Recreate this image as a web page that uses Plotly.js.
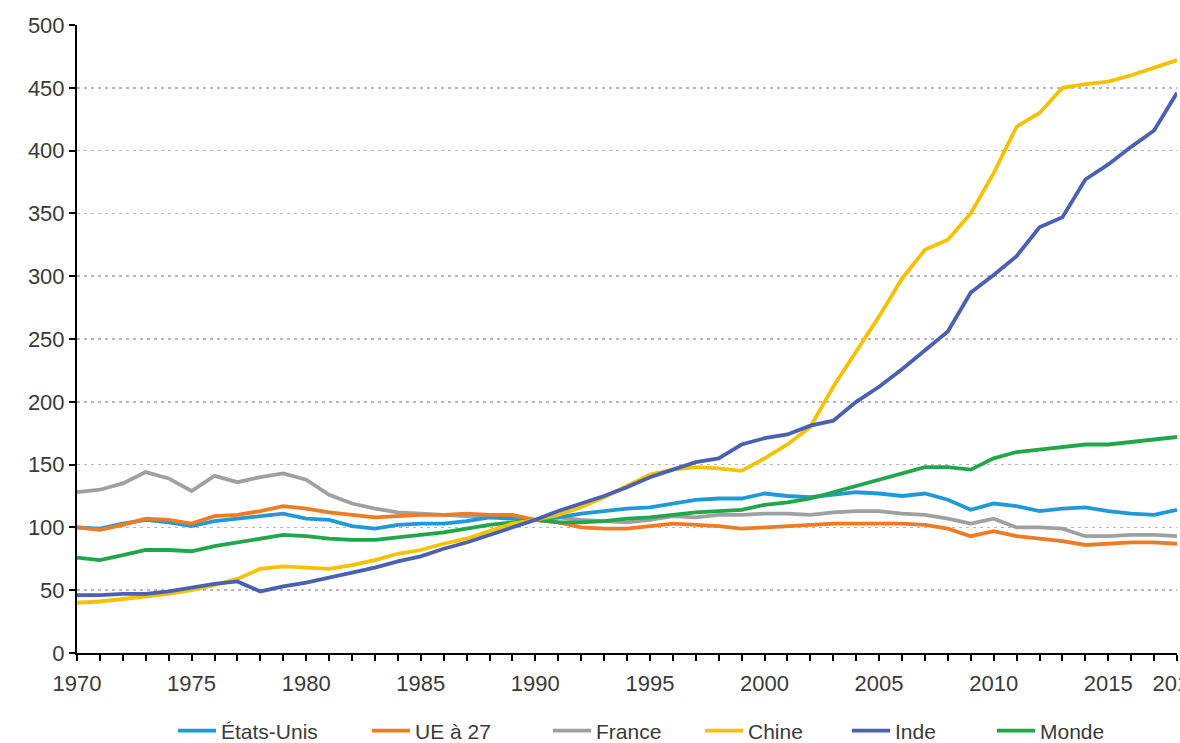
<!DOCTYPE html>
<html>
<head>
<meta charset="utf-8">
<script src="https://cdn.plot.ly/plotly-3.0.1.min.js"></script>
<style>html,body{margin:0;padding:0;background:#fff;overflow:hidden;}#chart{width:1180px;height:743px;}</style>
</head>
<body>
<div id="chart"></div>
<script>
const years = [1970,1971,1972,1973,1974,1975,1976,1977,1978,1979,1980,1981,1982,1983,1984,1985,1986,1987,1988,1989,1990,1991,1992,1993,1994,1995,1996,1997,1998,1999,2000,2001,2002,2003,2004,2005,2006,2007,2008,2009,2010,2011,2012,2013,2014,2015,2016,2017,2018];

const etatsUnis = [100,99,103,106,104,101,105,107,109,111,107,106,101,99,102,103,103,105,108,107,106,108,111,113,115,116,119,122,123,123,127,125,124,126,128,127,125,127,122,114,119,117,113,115,116,113,111,110,114];
const ue27 = [100,98,102,107,106,103,109,110,113,117,115,112,110,108,109,110,110,111,110,110,106,104,100,99,99,101,103,102,101,99,100,101,102,103,103,103,103,102,99,93,97,93,91,89,86,87,88,88,87];
const france = [128,130,135,144,139,129,141,136,140,143,138,126,119,115,112,111,110,109,108,108,106,108,106,105,104,106,109,108,110,110,111,111,110,112,113,113,111,110,107,103,107,100,100,99,93,93,94,94,93];
const chine = [40,41,43,45,47,50,54,59,67,69,68,67,70,74,79,82,87,91,97,103,106,110,116,124,133,142,146,148,147,145,155,166,180,212,240,268,298,321,329,350,382,419,430,450,453,455,460,466,472];
const inde = [46,46,47,47,49,52,55,57,49,53,56,60,64,68,73,77,83,88,94,100,106,113,119,125,132,140,146,152,155,166,171,174,181,185,200,212,226,241,256,287,301,316,339,347,377,389,403,416,446];
const monde = [76,74,78,82,82,81,85,88,91,94,93,91,90,90,92,94,96,99,102,104,106,104,104,105,107,108,110,112,113,114,118,120,123,128,133,138,143,148,148,146,155,160,162,164,166,166,168,170,172];

const seriesNames = ["États-Unis","UE à 27","France","Chine","Inde","Monde"];
const seriesData = [etatsUnis, ue27, france, chine, inde, monde];
const seriesColors = ["#1e9ad8","#ef7b25","#a0a0a0","#f6c200","#4a60b0","#22a64a"];

const xTickVals = [1970,1975,1980,1985,1990,1995,2000,2005,2010,2015,2018];
const xTickText = ["1970","1975","1980","1985","1990","1995","2000","2005","2010","2015","2018"];
const yTickVals = [0,50,100,150,200,250,300,350,400,450,500];

const fontFam = "Liberation Sans, Arial, sans-serif";
const textColor = "#3a3a3a";
const legendIds = ["legend","legend2","legend3","legend4","legend5","legend6"];
// left edge of each legend entry, in pixels of the page
const legendLeftPx = [173,367,548,700,847,992];
const pageW = 1180, pageH = 743;

const drawOrder = [2,0,1,5,3,4];
const traces = drawOrder.map(i => ({
  type: "scatter", mode: "lines", name: seriesNames[i],
  x: years, y: seriesData[i],
  line: {color: seriesColors[i], width: 3.8},
  legend: legendIds[i]
}));

const layout = {
  width: pageW, height: pageH,
  margin: {l: 77, r: 3, t: 25, b: 90},
  paper_bgcolor: "#fff", plot_bgcolor: "#fff",
  showlegend: true,
  xaxis: {
    range: [1970, 2018], automargin: false,
    tickmode: "array", tickvals: xTickVals, ticktext: xTickText,
    ticklabeloverflow: "allow",
    ticks: "outside", ticklen: 6, tickwidth: 2, tickcolor: "#000",
    ticklabelstandoff: 4,
    minor: {dtick: 1, tick0: 1970, ticks: "outside", ticklen: 6, tickwidth: 2, tickcolor: "#000", showgrid: false},
    showline: true, linecolor: "#000", linewidth: 2,
    showgrid: false, zeroline: false,
    tickfont: {family: fontFam, size: 22, color: textColor}
  },
  yaxis: {
    range: [0, 500], automargin: false,
    tickmode: "array", tickvals: yTickVals,
    ticks: "outside", ticklen: 6, tickwidth: 2, tickcolor: "#000",
    showline: true, linecolor: "#000", linewidth: 2,
    showgrid: true, gridcolor: "#b8b8b8", gridwidth: 1.5, griddash: "3px,4px",
    zeroline: false,
    tickfont: {family: fontFam, size: 22, color: textColor}
  }
};
legendIds.forEach((id, k) => {
  layout[id] = {
    orientation: "h", xref: "container", yref: "container",
    x: legendLeftPx[k] / pageW, xanchor: "left",
    y: (pageH - 731) / pageH, yanchor: "middle", bgcolor: "rgba(0,0,0,0)",
    itemwidth: 38,
    font: {family: fontFam, size: 21, color: textColor}
  };
});

Plotly.newPlot("chart", traces, layout, {displayModeBar: false, staticPlot: true});
</script>
</body>
</html>
